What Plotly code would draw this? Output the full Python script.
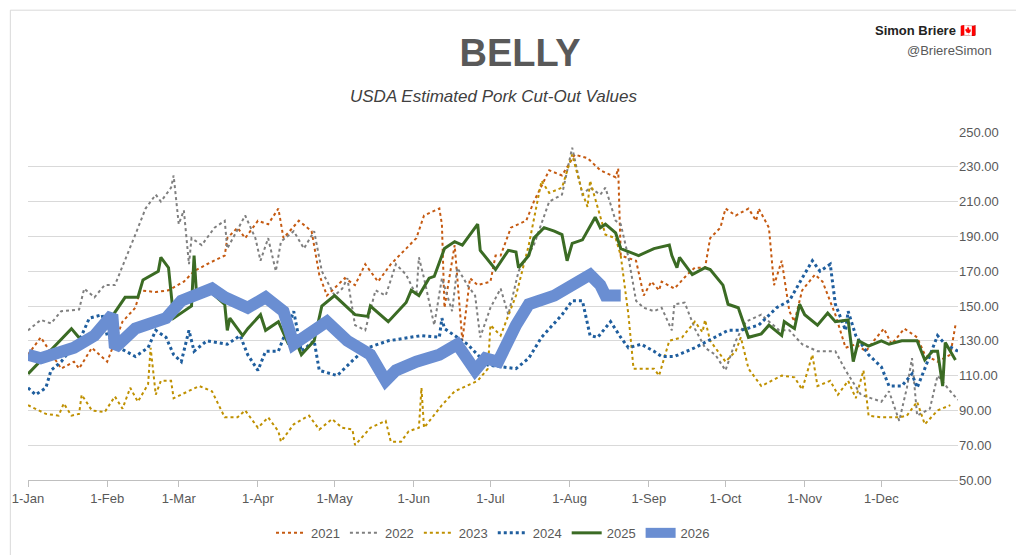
import pandas as pd
import plotly.graph_objects as go

# day of year (0 = 1-Jan) and belly value
d2021 = [0, 5, 13, 18, 20, 25, 31, 37, 42, 44, 50, 55, 61, 65, 70, 73, 77, 78, 82, 85, 90, 94, 98, 100, 106, 111, 114, 117, 124, 128, 132, 137, 142, 148, 152, 155, 161, 162, 163, 167, 170, 173, 176, 181, 183, 185, 189, 195, 198, 204, 209, 214, 219, 224, 230, 231, 232, 238, 241, 244, 247, 248, 253, 258, 261, 265, 267, 271, 273, 277, 282, 285, 286, 290, 292, 295, 298, 300, 303, 308, 311, 316, 320, 324, 328, 331, 335, 338, 343, 348, 351, 356, 361, 363]
v2021 = [122, 132, 114, 118, 114, 126, 118, 141, 149, 159, 158, 159, 164, 170, 174, 176, 179, 189, 195, 189, 199, 197, 206, 189, 199, 193, 168, 156, 166, 162, 174, 164, 174, 183, 189, 202, 206, 197, 149, 185, 130, 166, 162, 164, 179, 179, 195, 199, 210, 228, 225, 237, 235, 228, 224, 229, 179, 176, 156, 164, 159, 164, 160, 168, 172, 172, 189, 195, 206, 202, 206, 199, 206, 195, 162, 176, 147, 141, 159, 168, 164, 145, 126, 128, 124, 130, 137, 128, 137, 132, 122, 118, 122, 139]

d2022 = [0, 5, 9, 13, 20, 22, 26, 30, 34, 38, 42, 46, 50, 52, 56, 57, 59, 61, 63, 64, 68, 73, 77, 78, 83, 85, 89, 91, 94, 97, 99, 104, 108, 112, 115, 120, 123, 125, 128, 132, 136, 140, 144, 148, 152, 153, 155, 159, 162, 166, 168, 172, 175, 177, 181, 185, 188, 192, 198, 204, 209, 213, 217, 220, 224, 226, 230, 232, 235, 238, 241, 245, 248, 252, 253, 257, 261, 265, 269, 273, 277, 281, 287, 294, 298, 303, 309, 316, 320, 326, 334, 337, 341, 344, 346, 348, 353, 356, 361, 364]
v2022 = [136, 142, 140, 147, 148, 160, 155, 162, 162, 176, 191, 206, 214, 210, 218, 225, 197, 205, 174, 189, 185, 195, 199, 183, 197, 202, 189, 176, 189, 170, 187, 193, 183, 193, 170, 156, 160, 166, 139, 136, 159, 156, 174, 168, 156, 178, 166, 139, 166, 147, 172, 162, 156, 132, 149, 160, 145, 170, 185, 210, 214, 241, 214, 218, 214, 218, 199, 197, 178, 153, 149, 147, 149, 136, 151, 152, 137, 126, 122, 113, 130, 141, 145, 136, 136, 128, 124, 124, 113, 99, 95, 101, 84, 103, 120, 87, 91, 110, 101, 96]

d2023 = [0, 7, 12, 14, 17, 20, 21, 25, 30, 34, 37, 40, 43, 47, 48, 50, 52, 56, 57, 63, 67, 72, 77, 82, 85, 90, 94, 98, 99, 104, 110, 114, 119, 123, 127, 128, 134, 140, 142, 146, 149, 153, 154, 155, 162, 167, 176, 180, 181, 185, 191, 196, 201, 204, 209, 213, 217, 219, 220, 226, 230, 232, 235, 237, 245, 247, 251, 256, 261, 264, 265, 267, 273, 277, 279, 282, 287, 295, 300, 303, 307, 309, 314, 317, 321, 324, 327, 329, 334, 341, 344, 348, 351, 356, 361]
v2023 = [93, 88, 87, 94, 87, 88, 99, 90, 89, 98, 91, 103, 95, 105, 126, 99, 107, 107, 97, 101, 104, 101, 86, 86, 90, 80, 86, 78, 72, 82, 87, 79, 85, 80, 79, 70, 80, 84, 72, 72, 78, 80, 103, 80, 93, 101, 107, 114, 139, 133, 156, 185, 222, 215, 218, 237, 215, 207, 222, 191, 189, 179, 145, 114, 114, 110, 130, 132, 141, 135, 142, 130, 118, 124, 132, 114, 104, 110, 109, 102, 122, 104, 107, 99, 107, 97, 113, 87, 86, 86, 87, 95, 82, 90, 93]

d2024 = [0, 3, 7, 9, 13, 21, 24, 29, 31, 37, 42, 47, 50, 54, 57, 60, 63, 65, 70, 78, 83, 86, 90, 93, 98, 104, 107, 112, 114, 121, 128, 133, 141, 149, 154, 161, 162, 163, 172, 180, 191, 196, 201, 209, 213, 217, 220, 223, 228, 232, 235, 240, 245, 248, 253, 261, 266, 274, 279, 286, 293, 298, 303, 307, 310, 314, 316, 320, 321, 324, 329, 334, 337, 342, 346, 348, 351, 356, 359, 364]
v2024 = [103, 99, 103, 113, 118, 133, 143, 145, 133, 125, 121, 126, 136, 132, 122, 118, 136, 124, 130, 128, 133, 122, 113, 124, 124, 147, 124, 130, 113, 110, 120, 126, 130, 132, 133, 132, 143, 137, 128, 116, 114, 120, 132, 145, 153, 153, 133, 132, 141, 132, 126, 128, 124, 121, 121, 126, 130, 136, 136, 139, 149, 153, 166, 176, 170, 174, 151, 136, 147, 133, 122, 115, 104, 104, 111, 103, 114, 133, 128, 124]

d2025 = [0, 17, 21, 27, 32, 38, 43, 45, 51, 52, 55, 57, 64, 65, 66, 70, 77, 78, 79, 84, 86, 91, 93, 98, 102, 104, 107, 112, 115, 120, 128, 133, 134, 141, 148, 150, 153, 157, 159, 163, 167, 170, 175, 176, 177, 183, 188, 191, 192, 196, 198, 202, 206, 209, 211, 213, 217, 222, 224, 226, 230, 232, 239, 245, 251, 252, 254, 255, 260, 265, 267, 272, 274, 278, 282, 287, 290, 295, 296, 300, 302, 304, 309, 313, 316, 321, 323, 325, 329, 334, 337, 342, 348, 351, 354, 356, 358, 359, 363]
v2025 = [111, 137, 130, 137, 142, 155, 155, 165, 170, 178, 172, 143, 150, 179, 156, 160, 151, 136, 143, 133, 137, 145, 136, 141, 128, 133, 122, 130, 150, 156, 145, 144, 150, 141, 152, 159, 156, 166, 167, 183, 187, 185, 195, 197, 182, 171, 182, 181, 172, 179, 189, 195, 193, 191, 176, 186, 188, 201, 195, 197, 192, 183, 179, 183, 185, 179, 172, 178, 168, 172, 171, 162, 151, 149, 132, 134, 139, 133, 141, 137, 151, 145, 139, 146, 141, 142, 118, 130, 127, 130, 128, 130, 130, 119, 124, 124, 104, 129, 119]

d2026 = [0, 5, 18, 26, 33, 34, 42, 47, 54, 60, 72, 77, 86, 93, 100, 104, 117, 125, 134, 140, 144, 152, 161, 168, 175, 179, 184, 191, 196, 206, 214, 220, 224, 226, 232]
v2026 = [122, 120, 126, 133, 145, 126, 137, 139, 143, 153, 160, 155, 149, 155, 147, 128, 141, 130, 122, 107, 113, 118, 122, 128, 113, 120, 118, 139, 151, 156, 164, 168, 162, 156, 156]

series = [
    ("2021", d2021, v2021, "#C55A11", 2, "dot"),
    ("2022", d2022, v2022, "#7F7F7F", 2, "dot"),
    ("2023", d2023, v2023, "#BF9000", 2, "dot"),
    ("2024", d2024, v2024, "#1F5E9E", 3, "dot"),
    ("2025", d2025, v2025, "#3B6B24", 3, "solid"),
    ("2026", d2026, v2026, "#6A8ED2", 12, "solid"),
]

base = pd.Timestamp("2025-01-01")
months = pd.date_range("2025-01-01", "2025-12-01", freq="MS")
month_labels = ["1-" + m.strftime("%b") for m in months]

fig = go.Figure()
for name, days, vals, color, width, dash in series:
    x = [base + pd.Timedelta(days=d) for d in days]
    fig.add_trace(go.Scatter(x=x, y=vals, name=name, mode="lines",
                             line=dict(color=color, width=width, dash=dash)))

fig.update_layout(
    width=1024, height=555,
    paper_bgcolor="white", plot_bgcolor="white",
    font=dict(family="Liberation Sans, Arial", color="#595959"),
    margin=dict(l=20, r=74, t=124, b=83, autoexpand=False),
    showlegend=True,
    legend=dict(orientation="h", x=0.5, xanchor="center", y=-0.152, yanchor="middle",
                font=dict(size=13, color="#595959")),
    title=dict(text="<b>BELLY</b>", x=0.5, xanchor="center", y=0.919, yanchor="middle",
               yref="container", font=dict(size=38, color="#595959")),
    annotations=[
        dict(text="<i>USDA Estimated Pork Cut-Out Values</i>", xref="paper", yref="paper",
             x=0.5, y=1.103, yanchor="middle", showarrow=False,
             font=dict(size=17, color="#404040")),
        dict(text="<b>Simon Briere</b> 🇨🇦", xref="paper", yref="paper", x=1.022, y=1.293,
             xanchor="right", yanchor="middle", showarrow=False,
             font=dict(size=13, color="#222222")),
        dict(text="@BriereSimon", xref="paper", yref="paper", x=0.943, y=1.233,
             xanchor="left", yanchor="middle", showarrow=False,
             font=dict(size=13, color="#595959")),
    ],
    shapes=[dict(type="rect", xref="paper", yref="paper", x0=-0.019, x1=1.077,
                 y0=-0.233, y1=1.35, line=dict(color="#D9D9D9", width=1))],
)
fig.update_xaxes(range=[base, base + pd.Timedelta(days=364)], tickvals=list(months),
                 ticktext=month_labels, showgrid=False, showline=True, linecolor="#BFBFBF",
                 ticks="outside", tickcolor="#BFBFBF", ticklen=6, automargin=False,
                 tickfont=dict(size=13, color="#595959"))
fig.update_yaxes(range=[50, 250], dtick=20, tick0=50, side="right", tickformat=".2f",
                 showgrid=True, gridcolor="#D9D9D9", zeroline=False, automargin=False,
                 tickfont=dict(size=13, color="#595959"))

fig.write_html("out.html")
